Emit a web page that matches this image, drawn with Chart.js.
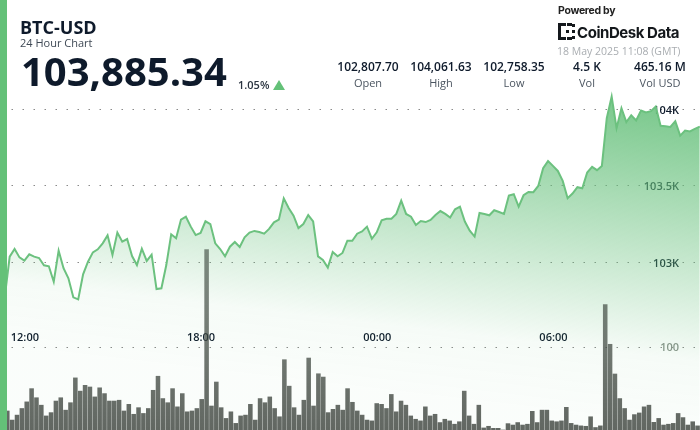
<!DOCTYPE html>
<html><head><meta charset="utf-8">
<script src="https://cdn.jsdelivr.net/npm/chart.js@4/dist/chart.umd.js"></script>
<style>
html,body{margin:0;padding:0;background:#fff;width:700px;height:430px;overflow:hidden;font-family:"Open Sans",sans-serif;color:#0e1a2b}
#wrap{position:relative;width:700px;height:430px}
canvas{position:absolute;left:0;top:0}
.t{position:absolute;white-space:nowrap;line-height:1}
.s{position:absolute;transform:translateX(-50%);text-align:center;white-space:nowrap;line-height:1}
.v{font-weight:600;font-size:12px}
.l{font-size:11px;color:#4b5560;margin-top:4px}
</style></head><body>
<div id="wrap">
<canvas id="c" width="700" height="430"></canvas>
<div style="position:absolute;left:0;top:0;width:7px;height:430px;background:#64c178"></div>
<div class="t" style="left:20px;top:18px;font-size:18px;font-weight:700">BTC-USD</div>
<div class="t" style="left:20px;top:37px;font-size:11px;color:#3f4955">24 Hour Chart</div>
<div class="t" style="left:21px;top:51px;font-size:40px;font-weight:700">103,885.34</div>
<div class="t" style="left:238px;top:79px;font-size:11px;font-weight:600;color:#2a3440">1.05%</div>
<svg style="position:absolute;left:273px;top:80px" width="12" height="10"><polygon points="6,0 12,10 0,10" fill="#64c178"/></svg>
<div class="s" style="left:368px;top:61px"><div class="v">102,807.70</div><div class="l">Open</div></div>
<div class="s" style="left:441px;top:61px"><div class="v">104,061.63</div><div class="l">High</div></div>
<div class="s" style="left:514px;top:61px"><div class="v">102,758.35</div><div class="l">Low</div></div>
<div class="s" style="left:587px;top:61px"><div class="v">4.5 K</div><div class="l">Vol</div></div>
<div class="s" style="left:660px;top:61px"><div class="v">465.16 M</div><div class="l">Vol USD</div></div>
<div class="t" style="left:558px;top:6px;font-size:10.5px;font-weight:700;color:#222;letter-spacing:-.3px;font-family:Inter,sans-serif">Powered by</div>
<svg style="position:absolute;left:558px;top:23px" width="18" height="17"><g fill="#14181c"><rect x="0" y="0" width="3" height="17"/><rect x="3" y="0" width="5" height="3"/><rect x="3" y="14" width="5" height="3"/><rect x="9" y="0" width="5" height="3"/><rect x="9" y="14" width="5" height="3"/><rect x="14" y="1" width="3" height="3"/><rect x="14" y="13" width="3" height="3"/><rect x="14" y="7" width="3" height="3"/><rect x="8" y="7" width="3" height="3"/></g></svg>
<div class="t" style="left:577px;top:25px;font-size:15px;font-weight:700;color:#14181c;letter-spacing:-.45px;font-family:Inter,sans-serif">CoinDesk Data</div>
<div class="t" style="left:557px;top:46px;font-size:10.5px;color:#a9adb1">18 May 2025 11:08 (GMT)</div>
</div>
<script>
const prices = [102777,103038,103088,103033,103012,103053,103038,103029,102981,102975,102874,103077,102962,102896,102772,102759,102922,103005,103066,103086,103125,103177,103049,103195,103136,103153,103042,102983,103090,103010,103051,102826,102831,102983,103184,103158,103280,103299,103234,103179,103193,103269,103251,103125,103088,103040,103103,103134,103101,
103164,103195,103206,103199,103188,103219,103262,103280,103419,103356,103306,103225,103251,103310,103269,103040,103016,102966,103068,103040,103062,103142,103142,103188,103203,103234,103155,103197,103275,103286,103286,103317,103404,103317,103299,103245,103271,103264,103278,103310,103336,103317,103293,103347,103365,103267,103208,
103169,103323,103317,103308,103341,103330,103317,103437,103446,103365,103439,103461,103459,103500,103616,103662,103631,103598,103533,103420,103450,103492,103485,103588,103625,103603,103631,103943,104084,103877,104008,103917,103962,103928,103993,103980,103989,104019,103893,103890,103886,103923,103829,103862,103856,103873,103888];
const volumes = [20,23,12,18,26,34,50,39,30,17,21,35,39,24,33,63,47,54,52,40,51,44,35,35,36,23,31,19,27,20,26,48,65,38,33,50,28,44,22,23,26,37,218,29,58,27,14,22,8,17,18,31,12,38,33,40,26,16,85,53,27,18,36,87,29,68,64,21,25,30,24,50,33.5,23,18,12,11,32,31,26,43,22,35,30,17,13,11,28,17,19,9,13,11,7,10,47,17,7,30,2.5,4.5,2,2,0,7.7,6,9,6,7,22.6,9,24,24,11,10,11,27.4,8,6,5,4.5,16,3,5,151.6,103.6,67.7,38,26,12,18.6,20.6,28,30,9.3,14,6,7,8,20,15,6,10,5];
const timeTickIndex = [4,40,76,112];
const timeTickLabels = ['12:00','18:00','00:00','06:00'];
const priceTicks = [103000,103500,104000];
const priceTickLabels = ['103K','103.5K','104K'];
const volumeTicks = [100];

const FONT = '"Open Sans", sans-serif';
const dash = {display:false, dash:[1.5,9.5], dashOffset:-0.5};
const noWidth = a=>{a.width=0;};

function fillGrad(c){
  const g = c.chart.ctx.createLinearGradient(692,430,734,72);
  g.addColorStop(0,'rgba(102,192,123,0.03)');
  g.addColorStop(0.19,'rgba(102,192,123,0.06)');
  g.addColorStop(1,'rgba(102,192,123,1)');
  return g;
}
function barGrad(c){
  const g = c.chart.ctx.createLinearGradient(0,250,0,430);
  g.addColorStop(0,'rgba(60,72,62,0.62)');
  g.addColorStop(1,'rgba(64,70,64,0.82)');
  return g;
}
const chart = new Chart(document.getElementById('c'),{
  data:{
    labels: volumes.map((_,i)=>String(i)),
    datasets:[
      {type:'bar', data:volumes, xAxisID:'xVol', yAxisID:'yVol', backgroundColor:barGrad, barThickness:3.9, grouped:false, order:0},
      {type:'line', data:prices.map((p,i)=>({x:i,y:p})), xAxisID:'xPrice', yAxisID:'y', borderColor:'#6cc17f', borderWidth:2, pointRadius:0, tension:0, fill:'start', backgroundColor:fillGrad, order:1}
    ]
  },
  options:{
    responsive:false, animation:false, devicePixelRatio:1,
    layout:{padding:{top:90,left:0,right:0,bottom:-27}},
    plugins:{legend:{display:false},tooltip:{enabled:false}},
    scales:{
      xVol:{type:'category', offset:true, display:false},
      xPrice:{
        type:'linear', min:-0.981, max:142.05, position:{y:102644},
        afterBuildTicks:a=>{a.ticks=timeTickIndex.map(v=>({value:v}));},
        afterFit:a=>{a.height=0;},
        grid:{display:false}, border:{display:false},
        ticks:{autoSkip:false,maxRotation:0,padding:6,labelOffset:0.5,color:'#0e1a2b',font:{family:FONT,size:11,weight:'600'},
          callback:v=>timeTickLabels[timeTickIndex.indexOf(v)]}
      },
      y:{
        type:'linear', position:'right', min:101905, max:104127,
        afterBuildTicks:a=>{a.ticks=priceTicks.map(v=>({value:v}));},
        afterFit:noWidth,
        grid:{color:'#8a8a8a',lineWidth:1,drawTicks:false}, border:dash,
        ticks:{mirror:true,padding:-21,labelOffset:1,color:'#0e1a2b',font:{family:FONT,size:11,weight:'600'},
          callback:v=>priceTickLabels[priceTicks.indexOf(v)]}
      },
      yVol:{
        type:'linear', position:'right', min:0, max:411,
        afterBuildTicks:a=>{a.ticks=volumeTicks.map(v=>({value:v}));},
        afterFit:noWidth,
        grid:{color:'#8a8a8a',lineWidth:1,drawTicks:false}, border:dash,
        ticks:{mirror:true,padding:-21,labelOffset:1,color:'#8a948c',font:{family:FONT,size:11,weight:'600'},callback:v=>String(v)}
      }
    }
  }
});
</script>
</body></html>
